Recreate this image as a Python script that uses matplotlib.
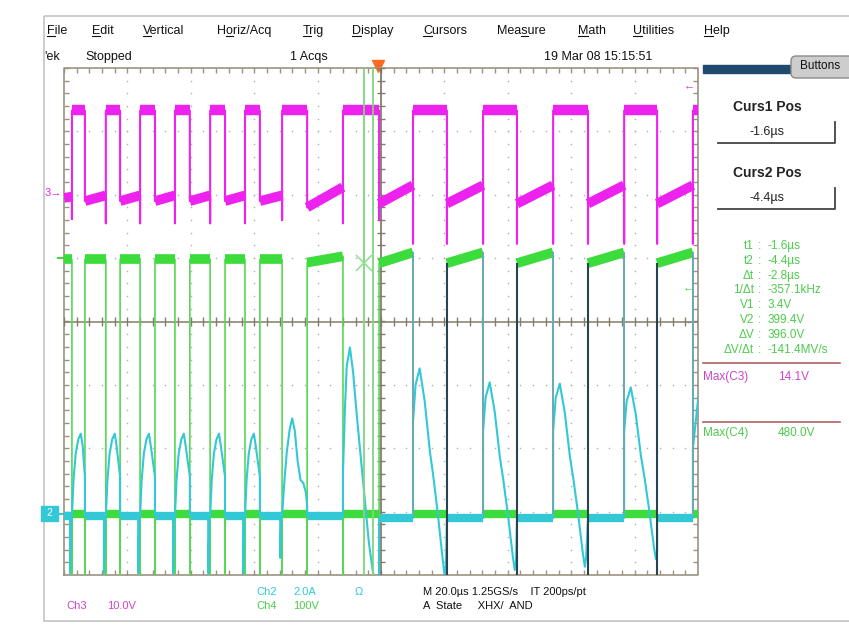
import numpy as np
import matplotlib
matplotlib.use("Agg")
import matplotlib.pyplot as plt
from matplotlib.collections import LineCollection
from matplotlib.patches import Rectangle, FancyBboxPatch

plt.rcParams['font.family'] = ['Liberation Sans', 'DejaVu Sans']

W, H = 849, 635

# ---- waveform data (time in us, level in divisions) ----
# Ch3 (magenta, gate drive) edges
ch3_rise = [-97.5, -86.8, -76.0, -65.0, -53.9, -42.9, -31.2, -12.0, 10.1, 32.2, 54.3, 76.7, 98.4]
ch3_fall = [-93.4, -82.3, -71.3, -60.3, -49.2, -38.2, -23.3, -0.6, 20.8, 42.9, 65.3, 87.1]
ch3_high = 3.33
ch3_low_start = [1.95, 1.90, 1.90, 1.90, 1.90, 1.90, 1.90, 1.80, 1.86, 1.86, 1.86, 1.86, 1.86]
ch3_low_end = [1.97, 1.99, 1.99, 1.99, 1.99, 1.99, 1.99, 2.12, 2.15, 2.15, 2.15, 2.15, 2.15]
ch3_rise_dip = [1.62, 1.55, 1.55, 1.55, 1.55, 1.55, 1.60, 1.55, 1.23, 1.23, 1.23, 1.23, 1.23]
ch3_fall_dip = [1.90, 1.90, 1.90, 1.90, 1.90, 1.90, 1.80, 1.60, 1.23, 1.23, 1.23, 1.23]

# Ch4 (green, drain voltage)
ch4_low = -3.03
ch4_high_start = [0.98, 0.98, 0.98, 0.98, 0.98, 0.98, 0.98, 0.93, 0.92, 0.92, 0.92, 0.92, 0.92]
ch4_high_end = [0.98, 0.98, 0.98, 0.98, 0.98, 0.98, 0.98, 1.03, 1.09, 1.09, 1.09, 1.09, 1.09]
ch4_rise_tail = [-4.3, -4.3, -4.3, -4.3, -4.3, -4.3, -4.3, -4.3, -3.03, -3.03, -3.03, -3.03, -3.03]
ch4_fall_tail = [-4.3, -4.3, -4.3, -4.3, -4.3, -4.3, -4.3, -4.3, -4.0, -4.0, -4.0, -4.0]

# Ch2 (cyan, current)
ch2_base_left = -3.07
ch2_base_right = -3.10
# short pulses 1..6: shape around the rising edge
ch2_hump_dt = [-0.6, -0.6, -0.2, 0.0, 0.5, 1.2, 2.0, 2.8, 3.4]
ch2_hump_v = [-3.07, -3.97, -3.07, -3.07, -2.50, -2.08, -1.86, -1.77, -1.97]
ch2_hump_fall_v = -2.45
# pulse 7 and 8
ch2_p7_t = [-31.8, -31.8, -31.4, -31.2, -30.6, -29.7, -28.8, -28.0, -27.2, -26.3, -25.4, -24.5, -23.7, -23.3, -23.3]
ch2_p7_v = [-3.07, -3.73, -3.07, -3.07, -2.60, -2.05, -1.70, -1.53, -1.72, -2.20, -2.50, -2.55, -2.70, -2.90, -3.07]
ch2_p8_t = [-12.0, -12.0, -11.4, -10.8, -9.8, -8.8, -7.6, -6.6, -5.0, -3.8, -2.5, -1.2, -0.6, -0.6]
ch2_p8_v = [-3.07, -2.40, -1.40, -0.70, -0.41, -0.80, -1.50, -2.03, -2.87, -3.50, -3.97, -4.20, -4.20, -3.10]
# long pulses (right half)
ch2_long_peak = [-0.74, -0.96, -0.98, -1.04]
ch2_long_bottom = [-4.00, -3.92, -3.87, -3.75]
ch2_long_dt = [0.0, 0.8, 2.1, 3.7, 5.3, 6.3, 7.8, 9.4, 10.0, 10.4]
ch2_long_frac = [0.26, 0.08, 0.0, 0.16, 0.40, 0.51, 0.70, 0.93, 1.0, 0.95]
ch2_tail_t = [98.4, 98.4, 100.5]
ch2_tail_v = [-3.10, -2.00, -1.00]

trig_t = -0.95
curs1, curs2 = -1.6, -4.4

menu_items = ['File', 'Edit', 'Vertical', 'Horiz/Acq', 'Trig', 'Display', 'Cursors',
              'Measure', 'Math', 'Utilities', 'Help']
menu_x = [47, 92, 143, 217, 303, 352, 423, 497, 578, 633, 704]
menu_ul = [0, 0, 0, 1, 0, 0, 0, 3, 0, 0, 0]

meas_labels = ['t1', 't2', 'Δt', '1/Δt', 'V1', 'V2', 'ΔV', 'ΔV/Δt']
meas_values = ['-1.6µs', '-4.4µs', '-2.8µs', '-357.1kHz', '3.4V', '399.4V', '396.0V', '-141.4MV/s']

MAG = '#ee22ee'
GRN = '#3ddc3d'
CYN = '#33c8d6'
GRAT = '#9c927f'

fig = plt.figure(figsize=(W / 100, H / 100), dpi=100)
fig.patch.set_facecolor('white')

# pixel-space overlay for the UI chrome
ui = fig.add_axes([0, 0, 1, 1])
ui.set_xlim(0, W)
ui.set_ylim(H, 0)
ui.axis('off')

# graticule area in pixels
gx0, gx1, gy0, gy1 = 64, 698, 68, 575
ax = fig.add_axes([gx0 / W, 1 - gy1 / H, (gx1 - gx0) / W, (gy1 - gy0) / H])
ax.set_facecolor('none')
ax.set_xlim(-100, 100)
ax.set_ylim(-4, 4)
ax.axis('off')

# ---- graticule ----
xt = np.arange(-100, 100.01, 4)
yt = np.arange(-4, 4.01, 0.2)
for gx in range(-80, 81, 20):
    if gx != 0:
        ax.scatter(np.full(len(yt), gx), yt, s=1.3, color='#b0b0b0', lw=0, zorder=1)
for gy in range(-3, 4):
    if gy != 0:
        ax.scatter(xt, np.full(len(xt), gy), s=1.3, color='#b0b0b0', lw=0, zorder=1)
ax.plot([-100, 100, 100, -100, -100], [-4, -4, 4, 4, -4], color=GRAT, lw=1.2, zorder=2, clip_on=False)
ax.vlines(xt, 4 - 0.08, 4, color=GRAT, lw=1, zorder=2)
ax.vlines(xt, -4, -4 + 0.08, color=GRAT, lw=1, zorder=2)
ax.hlines(yt, -100, -100 + 1.6, color=GRAT, lw=1, zorder=2)
ax.hlines(yt, 100 - 1.6, 100, color=GRAT, lw=1, zorder=2)
ax.axhline(0, color='#857b68', lw=1.1, zorder=2)
ax.axvline(0, color='#6e6656', lw=1.1, zorder=2)
ax.vlines(xt, -0.07, 0.07, color='#857b68', lw=1, zorder=2)
ax.hlines(yt, -1.3, 1.3, color='#857b68', lw=1, zorder=2)


def bands(ax, segs, color, lw, z):
    ax.add_collection(LineCollection(segs, colors=color, linewidths=lw, zorder=z, capstyle='butt'))


# ---- Ch2 cyan ----
t2, v2 = [-100], [ch2_base_left]
for i in range(6):
    r, f = ch3_rise[i], ch3_fall[i]
    t2 += [r + d for d in ch2_hump_dt]
    v2 += ch2_hump_v
    t2 += [f, f]
    v2 += [ch2_hump_fall_v, ch2_base_left]
t2 += ch2_p7_t
v2 += ch2_p7_v
t2 += ch2_p8_t
v2 += ch2_p8_v
for k in range(4):
    r, f = ch3_rise[8 + k], ch3_fall[8 + k]
    pk, bt = ch2_long_peak[k], ch2_long_bottom[k]
    t2 += [r]
    v2 += [ch2_base_right]
    t2 += [r + d for d in ch2_long_dt]
    v2 += [pk + fr * (bt - pk) for fr in ch2_long_frac]
    t2 += [f]
    v2 += [ch2_base_right]
t2 += ch2_tail_t
v2 += ch2_tail_v
cb = [[(-100, ch2_base_left), (ch3_rise[0], ch2_base_left)]]
for i, f in enumerate(ch3_fall):
    b = ch2_base_left if f < -1 else ch2_base_right
    cb.append([(f, b), (ch3_rise[i + 1], b)])
bands(ax, cb, CYN, 6, 3)

# ---- Ch3 magenta ----
t3, v3 = [-100], [ch3_low_start[0]]
hi_segs, lo_segs = [], [[(-100, ch3_low_start[0]), (ch3_rise[0], ch3_low_end[0])]]
for i, r in enumerate(ch3_rise):
    t3 += [r, r, r]
    v3 += [ch3_low_end[i], ch3_rise_dip[i], ch3_high]
    f = ch3_fall[i] if i < len(ch3_fall) else 101
    hi_segs.append([(r, ch3_high), (f, ch3_high)])
    if i < len(ch3_fall):
        t3 += [f, f, f]
        v3 += [ch3_high, ch3_fall_dip[i], ch3_low_start[i + 1]]
        lo_segs.append([(f, ch3_low_start[i + 1]), (ch3_rise[i + 1], ch3_low_end[i + 1])])
    else:
        t3 += [101]
        v3 += [ch3_high]
ax.plot(t3, v3, color=MAG, lw=1.5, zorder=4)
bands(ax, hi_segs, MAG, 7.5, 4)
bands(ax, lo_segs, MAG, 7, 4)

# ---- Ch4 green ----
t4, v4 = [-100], [ch4_high_start[0]]
g_hi, g_lo = [[(-100, ch4_high_start[0]), (ch3_rise[0], ch4_high_end[0])]], []
for i, r in enumerate(ch3_rise):
    t4 += [r, r, r]
    v4 += [ch4_high_end[i], ch4_rise_tail[i], ch4_low]
    f = ch3_fall[i] if i < len(ch3_fall) else 101
    g_lo.append([(r, ch4_low), (f, ch4_low)])
    if i < len(ch3_fall):
        t4 += [f, f, f]
        v4 += [ch4_low, ch4_fall_tail[i], ch4_high_start[i + 1]]
        g_hi.append([(f, ch4_high_start[i + 1]), (ch3_rise[i + 1], ch4_high_end[i + 1])])
    else:
        t4 += [101]
        v4 += [ch4_low]
ax.plot(t4, v4, color='#55d855', lw=1.2, zorder=5)
bands(ax, g_hi, GRN, 7, 5)
bands(ax, g_lo, GRN, 6, 5)

# cyan pulses drawn over the green edges
ax.plot(t2, v2, color=CYN, lw=1.5, zorder=6)

# overlapped edges in the right half look teal / dark
ax.vlines(ch3_rise[8:], ch4_low, ch4_high_end[8:], color='#6aaab8', lw=1.4, zorder=6)
ax.vlines(ch3_fall[8:], ch4_fall_tail[8:], ch4_high_start[9:], color='#27434f', lw=1.5, zorder=6)

# cursors
ax.axvline(trig_t + curs1, color='#7fd67f', lw=1.3, zorder=7)
ax.axvline(trig_t + curs2, color='#7fd67f', lw=1.3, zorder=7)
ax.plot([trig_t + curs2], [ch4_high_start[7]], marker='x', ms=11, mew=1.1, color='#8ee08e', zorder=8)

# ---- UI chrome ----
ui.add_patch(Rectangle((44, 16), 900, 605, fill=False, ec='#c4c4c4', lw=1.2))
menu_txt = []
for s, x in zip(menu_items, menu_x):
    menu_txt.append(ui.text(x, 31, s, fontsize=9, va='center', ha='left', color='#111'))
ui.text(44, 57, "'ek", fontsize=9, va='center', color='#111')
ui.text(85, 57, 'Stopped', fontsize=9, va='center', color='#111')
ui.text(290, 57, '1 Acqs', fontsize=9, va='center', color='#111')
ui.text(544, 57, '19 Mar 08 15:15:51', fontsize=9, va='center', color='#111')

# trigger position marker
ui.plot([378], [66], marker='v', ms=8, color='#ff6a20', mec='#ff6a20')

# side panel
ui.add_patch(Rectangle((703, 65), 90, 8, color='#1f4a6e'))
ui.add_patch(FancyBboxPatch((791, 56), 62, 22, boxstyle='round,pad=0,rounding_size=5',
                            fc='#cdcdcd', ec='#8a8a8a', lw=1))
ui.text(820, 66, 'Buttons', fontsize=8.5, ha='center', va='center', color='#111')
for lab, val, y in [('Curs1 Pos', '-1.6µs', 107), ('Curs2 Pos', '-4.4µs', 173)]:
    ui.text(767, y, lab, fontsize=10, fontweight='bold', ha='center', va='center', color='#222')
    ui.text(767, y + 25, val, fontsize=9, ha='center', va='center', color='#222')
    ui.plot([718, 835, 835], [y + 36, y + 36, y + 15], color='#444', lw=1.3)

for i, (lab, val) in enumerate(zip(meas_labels, meas_values)):
    y = 246 + i * 14.8
    ui.text(754, y, lab, fontsize=8.5, ha='right', va='center', color='#4ccc4c')
    ui.text(758, y, ':', fontsize=8.5, ha='left', va='center', color='#4ccc4c')
    ui.text(768, y, val, fontsize=8.5, ha='left', va='center', color='#4ccc4c')
ui.plot([703, 840], [363, 363], color='#b06060', lw=1.2)
ui.plot([703, 840], [422, 422], color='#b06060', lw=1.2)
ui.text(703, 377, 'Max(C3)', fontsize=8.5, va='center', color='#cc44cc')
ui.text(778, 377, '14.1V', fontsize=8.5, va='center', color='#cc44cc')
ui.text(703, 433, 'Max(C4)', fontsize=8.5, va='center', color='#4ccc4c')
ui.text(778, 433, '480.0V', fontsize=8.5, va='center', color='#4ccc4c')

# channel ground markers
ui.text(62, 193, '3→', fontsize=8, ha='right', va='center', color=MAG)
ui.plot([58, 64], [258, 258], color=GRN, lw=1.5)
ui.add_patch(Rectangle((41, 506), 17, 15, color=CYN))
ui.text(49, 513.5, '2', fontsize=7.5, ha='center', va='center', color='white')
ui.plot([58, 64], [513.5, 513.5], color=CYN, lw=1.5)
ui.text(689, 85, '←', fontsize=8, ha='center', va='center', color=MAG)
ui.text(688, 287, '←', fontsize=8, ha='center', va='center', color=GRN)
ui.text(690, 320, '←', fontsize=8, ha='center', va='center', color=CYN)

# bottom readouts
ui.text(256, 592, 'Ch2', fontsize=8, va='center', color=CYN)
ui.text(293, 592, '2.0A', fontsize=8, va='center', color=CYN)
ui.text(355, 592, 'Ω', fontsize=8, va='center', color=CYN)
ui.text(423, 592, 'M 20.0µs 1.25GS/s    IT 200ps/pt', fontsize=8, va='center', color='#111')
ui.text(66, 606, 'Ch3', fontsize=8, va='center', color='#cc44cc')
ui.text(107, 606, '10.0V', fontsize=8, va='center', color='#cc44cc')
ui.text(256, 606, 'Ch4', fontsize=8, va='center', color='#4ccc4c')
ui.text(293, 606, '100V', fontsize=8, va='center', color='#4ccc4c')
ui.text(423, 606, 'A  State     XHX/  AND', fontsize=8, va='center', color='#111')

# underline menu mnemonics
fig.canvas.draw()
rend = fig.canvas.get_renderer()
for txt, k in zip(menu_txt, menu_ul):
    s = txt.get_text()
    bb = txt.get_window_extent(rend)
    tmp = ui.text(0, 0, s[:k], fontsize=9)
    w0 = tmp.get_window_extent(rend).width if k else 0
    tmp.set_text(s[:k + 1])
    w1 = tmp.get_window_extent(rend).width
    tmp.remove()
    ui.plot([bb.x0 + w0, bb.x0 + w1], [H - bb.y0 - 1, H - bb.y0 - 1], color='#111', lw=0.8)

fig.savefig('out.png', dpi=100)
